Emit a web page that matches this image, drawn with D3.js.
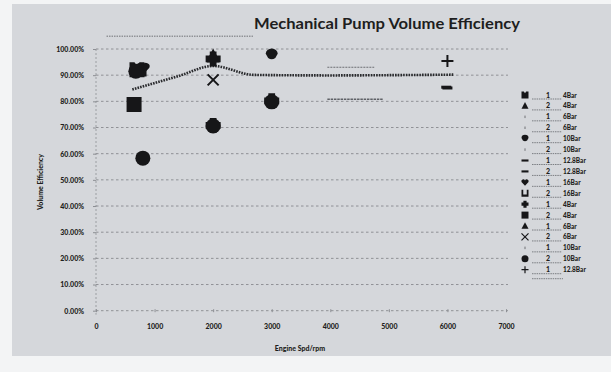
<!DOCTYPE html>
<html>
<head>
<meta charset="utf-8">
<script src="https://cdn.jsdelivr.net/npm/d3@7"></script>
<style>
  html, body { margin: 0; padding: 0; background: #f3f4f5; }
  svg { display: block; }
  text { font-family: Lato, "Open Sans", "DejaVu Sans", sans-serif; fill: #1e1e20; }
</style>
</head>
<body>
<svg id="chart" width="611" height="372"></svg>
<script>
// ---- data ----------------------------------------------------------------
const chartTitle = "Mechanical Pump Volume Efficiency";
const xTitle = "Engine Spd/rpm";
const yTitle = "Volume Efficiency";
const xTicks = [0, 1000, 2000, 3000, 4000, 5000, 6000, 7000];
const yTicks = [0, 0.1, 0.2, 0.3, 0.4, 0.5, 0.6, 0.7, 0.8, 0.9, 1.0];

// legend entries: run number and supply pressure
const seriesRun = ["1","2","1","2","1","2","1","2","1","2","1","2","1","2","1","2","1"];
const seriesPressure = ["4Bar","4Bar","6Bar","6Bar","10Bar","10Bar","12.8Bar","12.8Bar",
                        "16Bar","16Bar","4Bar","4Bar","6Bar","6Bar","10Bar","10Bar","12.8Bar"];

// measured points per series: [engine speed rpm, volume efficiency]
const seriesPoints = [
  [[700, 0.921]],                                   // 1 4Bar
  [[2000, 0.975]],                                  // 2 4Bar
  [[830, 0.930]],                                   // 1 6Bar
  [],                                               // 2 6Bar
  [[3000, 0.977]],                                  // 1 10Bar
  [],                                               // 2 10Bar
  [[6000, 0.851]],                                  // 1 12.8Bar
  [[5980, 0.854]],                                  // 2 12.8Bar
  [[800, 0.926]],                                   // 1 16Bar
  [[760, 0.918]],                                   // 2 16Bar
  [[2000, 0.962], [3000, 0.802], [2000, 0.708]],    // 1 4Bar
  [[650, 0.788]],                                   // 2 4Bar
  [[2000, 0.968]],                                  // 1 6Bar
  [[2000, 0.882]],                                  // 2 6Bar
  [],                                               // 1 10Bar
  [[800, 0.583], [2000, 0.706], [3000, 0.798], [680, 0.915]], // 2 10Bar
  [[6000, 0.954]]                                   // 1 12.8Bar
];

// averaged efficiency trend
const trendRpm = [620, 1400, 2000, 2700, 4000, 5000, 6100];
const trendEff = [0.845, 0.896, 0.935, 0.901, 0.899, 0.900, 0.902];

// reference bands
const capLine  = [[180, 1.049], [2680, 1.049]];
const bandHigh = [[3950, 0.930], [4750, 0.930]];
const bandLow  = [[3950, 0.808], [4900, 0.808]];

// ---- styling -------------------------------------------------------------
const seriesShape = ["notch","triangle","tick","tick","shield","tick","dash","dash",
                     "heart","cup","cross","square","triangle","x","tick","circle","plus"];
const ink = "#161618";

const svg = d3.select("#chart");

// framed grey panel
svg.append("rect").attr("x", 12).attr("y", 4).attr("width", 599).attr("height", 352)
  .attr("fill", "#d5d7db");

const x = d3.scaleLinear().domain([0, 7000]).range([96, 506]);
const y = d3.scaleLinear().domain([0, 1]).range([310.7, 49]);

// horizontal gridlines
svg.append("g").selectAll("line").data(yTicks).join("line")
  .attr("x1", x(0)).attr("x2", 508)
  .attr("y1", d => y(d)).attr("y2", d => y(d))
  .attr("stroke", "#7d7f84").attr("stroke-width", 0.8)
  .attr("stroke-dasharray", "2.5,2.5");

// vertical axis line
svg.append("line").attr("x1", x(0)).attr("x2", x(0))
  .attr("y1", y(1)).attr("y2", y(0) + 4)
  .attr("stroke", "#8d8f94").attr("stroke-width", 0.8).attr("stroke-dasharray", "2,2");

// axes (labels only, ticks drawn faintly)
const yAxis = d3.axisLeft(y).tickValues(yTicks).tickFormat(d3.format(".2%")).tickSize(3);
const gy = svg.append("g").attr("transform", `translate(${x(0)},0)`).call(yAxis);
gy.select(".domain").remove();
gy.selectAll(".tick line").attr("stroke", "#8d8f94");
gy.selectAll(".tick text").attr("x", -12).attr("dy", "0.35em")
  .style("font-size", "7px").style("font-weight", "900").attr("fill", "#222");

const xAxis = d3.axisBottom(x).tickValues(xTicks).tickFormat(d3.format("d")).tickSize(3);
const gx = svg.append("g").attr("transform", `translate(0,${y(0) - 1.5})`).call(xAxis);
gx.select(".domain").remove();
gx.selectAll(".tick line").attr("stroke", "#8d8f94");
gx.selectAll(".tick text").attr("y", 15)
  .style("font-size", "7px").style("font-weight", "900").attr("fill", "#222");

// titles
svg.append("text").attr("x", 387).attr("y", 29).attr("text-anchor", "middle")
  .attr("textLength", 266).attr("lengthAdjust", "spacingAndGlyphs")
  .style("font-size", "15.5px").style("font-weight", "700").text(chartTitle);
svg.append("text").attr("x", 300).attr("y", 351).attr("text-anchor", "middle")
  .style("font-size", "7px").style("font-weight", "900").text(xTitle);
svg.append("text").attr("transform", "translate(43,182) rotate(-90)").attr("text-anchor", "middle")
  .style("font-size", "7px").style("font-weight", "900").text(yTitle);

// reference lines
const line = d3.line().x(d => x(d[0])).y(d => y(d[1]));
svg.append("path").attr("d", line(capLine)).attr("fill", "none")
  .attr("stroke", "#6f7176").attr("stroke-width", 1).attr("stroke-dasharray", "1.5,1");
svg.append("path").attr("d", line(bandHigh)).attr("fill", "none")
  .attr("stroke", "#6c6e73").attr("stroke-width", 1.1).attr("stroke-dasharray", "2,1");
svg.append("path").attr("d", line(bandLow)).attr("fill", "none")
  .attr("stroke", "#5f6166").attr("stroke-width", 1.6).attr("stroke-dasharray", "2.5,0.8");

// marker paths
function shapePath(kind, s) {
  const h = s / 2;
  switch (kind) {
    case "square": return `M${-h},${-h}H${h}V${h}H${-h}Z`;
    case "notch": return `M${-h},${-h}L${-h/3},${-h}L0,${-h/2}L${h/3},${-h}L${h},${-h}V${h}H${-h}Z`;
    case "triangle": return `M0,${-h*1.1}L${h},${h*0.8}H${-h}Z`;
    case "circle": return d3.symbol(d3.symbolCircle, Math.PI * h * h)();
    case "cross": {
      const t = h * 0.45;
      return `M${-t},${-h}H${t}V${-t}H${h}V${t}H${t}V${h}H${-t}V${t}H${-h}V${-t}H${-t}Z`;
    }
    case "shield": return `M${-h},${-h*0.2}A${h},${h*0.9} 0 0 1 ${h},${-h*0.2}L${h*0.6},${h*0.5}Q0,${h*0.9} ${-h*0.6},${h*0.5}Z`;
    case "heart": return `M0,${h}L${-h},${-h*0.1}A${h/2},${h/2} 0 0 1 0,${-h*0.5}A${h/2},${h/2} 0 0 1 ${h},${-h*0.1}Z`;
    case "cup": return `M${-h},${-h}H${-h/2}V${h/3}H${h/2}V${-h}H${h}V${h}H${-h}Z`;
    case "dash": return `M${-h},${-h*0.3}H${h}V${h*0.3}H${-h}Z`;
    default: return null;
  }
}
const strokeShapes = { x: true, plus: true, tick: true };
function strokePath(kind, s) {
  const h = s / 2;
  if (kind === "x") return `M${-h},${-h}L${h},${h}M${h},${-h}L${-h},${h}`;
  if (kind === "plus") return `M${-h},0H${h}M0,${-h}V${h}`;
  return `M0,${-h*0.5}V${h*0.5}`;
}
function drawMarker(g, kind, cx, cy, s) {
  if (strokeShapes[kind]) {
    g.append("path").attr("transform", `translate(${cx},${cy})`)
      .attr("d", strokePath(kind, s)).attr("fill", "none")
      .attr("stroke", kind === "tick" ? "#55575c" : ink)
      .attr("stroke-width", kind === "tick" ? 0.8 : (s > 8 ? 2 : 1.2));
  } else {
    g.append("path").attr("transform", `translate(${cx},${cy})`)
      .attr("d", shapePath(kind, s)).attr("fill", ink);
  }
}

// trend line
svg.append("path")
  .attr("d", d3.line().curve(d3.curveMonotoneX)
    .x((d, i) => x(trendRpm[i])).y(d => y(d))(trendEff))
  .attr("fill", "none").attr("stroke", "#2a2b2e")
  .attr("stroke-width", 2.6).attr("stroke-dasharray", "1.6,1.1");

// data markers
const markSize = { square: 15, notch: 15, triangle: 13, circle: 15, cross: 15, shield: 12,
  heart: 13, cup: 12, dash: 10, x: 11, plus: 12, tick: 8 };
const gm = svg.append("g");
seriesPoints.forEach((pts, i) => {
  pts.forEach(p => drawMarker(gm, seriesShape[i], x(p[0]), y(p[1]), markSize[seriesShape[i]]));
});

// legend
const lg = svg.append("g");
const rowY = d3.scaleLinear().domain([0, 16]).range([95, 269.7]);
seriesRun.forEach((run, i) => {
  const ry = rowY(i);
  drawMarker(lg, seriesShape[i], 525, ry, seriesShape[i] === "tick" ? 5 : 7);
  lg.append("line").attr("x1", 532).attr("x2", 562).attr("y1", ry + 4).attr("y2", ry + 4)
    .attr("stroke", "#55575c").attr("stroke-width", 0.7).attr("stroke-dasharray", "1.5,0.8");
  lg.append("text").attr("x", 548).attr("y", ry + 2.5).attr("text-anchor", "middle")
    .style("font-size", "7px").style("font-weight", "900").text(run);
  lg.append("text").attr("x", 563).attr("y", ry + 2.5)
    .style("font-size", "6.5px").style("font-weight", "900").text(seriesPressure[i]);
});
lg.append("line").attr("x1", 532).attr("x2", 563).attr("y1", rowY(16) + 9).attr("y2", rowY(16) + 9)
  .attr("stroke", "#55575c").attr("stroke-width", 0.7).attr("stroke-dasharray", "1.5,0.8");
</script>
</body>
</html>
